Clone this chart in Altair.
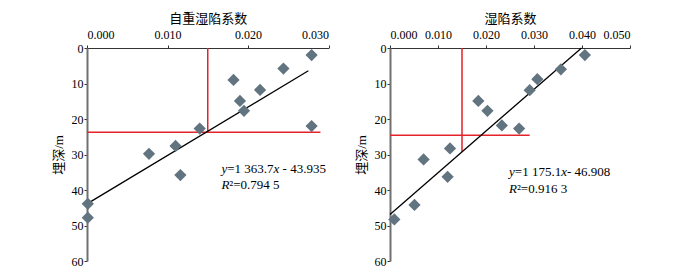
import altair as alt
import pandas as pd

# ---- data ----
left_x = [0.0279, 0.0244, 0.0182, 0.0215, 0.0190, 0.0195, 0.0140, 0.0279, 0.0110, 0.0077, 0.0116, 0.0001, 0.0001]
left_depth = [2.0, 5.8, 9.0, 11.8, 14.9, 17.7, 22.7, 22.0, 27.6, 29.8, 35.8, 43.9, 47.8]
right_x = [0.0406, 0.0356, 0.0307, 0.0291, 0.0184, 0.0203, 0.0233, 0.0269, 0.0125, 0.0070, 0.0120, 0.0051, 0.0009]
right_depth = [2.0, 6.0, 8.8, 11.9, 14.9, 17.7, 21.8, 22.7, 28.3, 31.4, 36.3, 44.2, 48.3]

left_fit_x = [0.0, 0.0275]
left_fit_depth = [43.9, 6.4]
right_fit_x = [0.0, 0.0399]
right_fit_depth = [46.9, 0.0]

left_ref_x = [0.015, 0.0]
left_ref_x2 = [0.015, 0.029]
left_ref_d = [0.0, 23.7]
left_ref_d2 = [23.7, 23.7]
right_ref_x = [0.015, 0.0]
right_ref_x2 = [0.015, 0.0291]
right_ref_d = [0.0, 24.6]
right_ref_d2 = [29.2, 24.6]

left_ticks = [0.0, 0.01, 0.02, 0.03]
right_ticks = [0.0, 0.01, 0.02, 0.03, 0.04, 0.05]
depth_ticks = [0, 10, 20, 30, 40, 50, 60]

left_title = "自重湿陷系数"
right_title = "湿陷系数"
depth_title = "埋深/m"

left_eq = ["y", "=1 363.7", "x", "- 43.935"]
right_eq = ["y", "=1 175.1", "x", "- 46.908"]
left_r2 = ["R", "²=0.794 5"]
right_r2 = ["R", "²=0.916 3"]
left_eq_pos = (0.0167, 34.0, 38.7)
right_eq_pos = (0.0248, 34.9, 39.7)

SERIF = "Liberation Serif"
TITLEFONT = "Liberation Serif, Noto Sans CJK SC"
MARKER = "#617480"
RED = "#e52229"


def panel(xs, ds, fx, fd, rx, rx2, rd, rd2, domain, ticks, title, eq, r2, pos, w, gap):
    x_enc = alt.X("x:Q", scale=alt.Scale(domain=domain, nice=False, zero=False),
                  axis=alt.Axis(orient="top", values=ticks, format=".3f", title=title,
                                titleFont=TITLEFONT, titleFontSize=13, titleFontWeight="normal",
                                titlePadding=3, labelFont=SERIF, labelFontSize=12,
                                labelColor="black", domainColor="#333333", domainWidth=1,
                                tickColor="#333333", tickSize=3, labelPadding=4, grid=False,
                                labelOverlap=False))
    y_enc = alt.Y("d:Q", scale=alt.Scale(domain=[0, 60], reverse=True, nice=False),
                  axis=alt.Axis(values=depth_ticks, title=depth_title,
                                titleFont=TITLEFONT, titleFontSize=13, titleFontWeight="normal",
                                titlePadding=6, labelFont=SERIF, labelFontSize=12,
                                labelColor="black", domainColor="#707070", domainWidth=2,
                                tickColor="#333333", tickSize=3, labelPadding=1, grid=False,
                                labelOverlap=False))

    pts = alt.Chart(pd.DataFrame({"x": xs, "d": ds})).mark_point(
        shape="diamond", filled=True, size=150, color=MARKER, opacity=1
    ).encode(x=x_enc, y=y_enc)

    fit = alt.Chart(pd.DataFrame({"x": fx, "d": fd})).mark_line(
        color="black", strokeWidth=1.3
    ).encode(x=x_enc, y=y_enc)

    ref = alt.Chart(pd.DataFrame({"x": rx, "x2": rx2, "d": rd, "d2": rd2})).mark_rule(
        color=RED, strokeWidth=1.5
    ).encode(x=x_enc, x2="x2:Q", y=y_enc, y2="d2:Q")

    layers = [ref, fit, pts]
    offs_eq = [0, 5.8, 52.1, 57.9 + gap]
    styles_eq = ["italic", "normal", "italic", "normal"]
    for t, o, s in zip(eq, offs_eq, styles_eq):
        layers.append(
            alt.Chart(pd.DataFrame({"x": [pos[0]], "d": [pos[1]], "t": [t]})).mark_text(
                align="left", baseline="middle", font=SERIF, fontSize=13, fontStyle=s,
                dx=o, color="black"
            ).encode(x=x_enc, y=y_enc, text="t:N")
        )
    for t, o, s in zip(r2, [0, 7.9], ["italic", "normal"]):
        layers.append(
            alt.Chart(pd.DataFrame({"x": [pos[0]], "d": [pos[2]], "t": [t]})).mark_text(
                align="left", baseline="middle", font=SERIF, fontSize=13, fontStyle=s,
                dx=o, color="black"
            ).encode(x=x_enc, y=y_enc, text="t:N")
        )
    return alt.layer(*layers).properties(width=w, height=213)


left = panel(left_x, left_depth, left_fit_x, left_fit_depth, left_ref_x, left_ref_x2,
             left_ref_d, left_ref_d2, [0, 0.03], left_ticks, left_title, left_eq, left_r2,
             left_eq_pos, 241.5, 3.25)
right = panel(right_x, right_depth, right_fit_x, right_fit_depth, right_ref_x, right_ref_x2,
              right_ref_d, right_ref_d2, [0, 0.05], right_ticks, right_title, right_eq, right_r2,
              right_eq_pos, 240, 0)

chart = alt.hconcat(left, right, spacing=25).properties(
    padding={"left": 44, "top": 4, "right": 5, "bottom": 5},
    background="white",
).configure_view(stroke=None)

chart.save("out.html", embed_options={"renderer": "svg", "actions": False})
